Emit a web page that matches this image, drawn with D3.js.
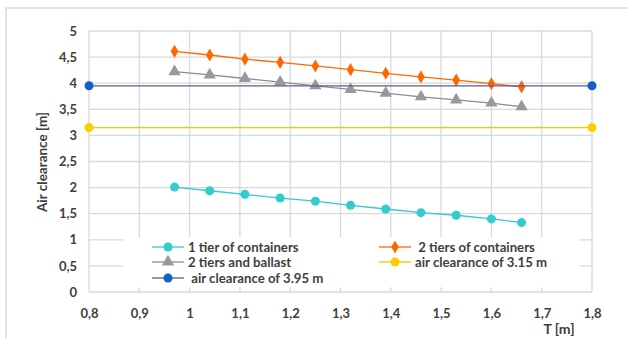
<!DOCTYPE html>
<html lang="en">
<head>
    <meta charset="UTF-8">
    <title>Air clearance vs T</title>
    <script src="https://d3js.org/d3.v7.min.js"></script>
    <style>
        body {
            margin: 0;
            padding: 0;
            background: #fff;
            font-family: 'Lato', 'Open Sans', sans-serif;
        }
        svg text {
            fill: #404040;
            font-weight: bold;
        }
    </style>
</head>
<body>
    <svg id="chart"></svg>

    <script>
        // Data
        const tValues = [0.97, 1.04, 1.11, 1.18, 1.25, 1.32, 1.39, 1.46, 1.53, 1.60, 1.66];
        const oneTier = [2.01, 1.94, 1.87, 1.80, 1.74, 1.66, 1.59, 1.52, 1.47, 1.40, 1.33];
        const twoTiers = [4.61, 4.54, 4.46, 4.40, 4.33, 4.26, 4.19, 4.12, 4.06, 3.99, 3.93];
        const twoTiersBallast = [4.22, 4.16, 4.09, 4.02, 3.95, 3.88, 3.81, 3.74, 3.68, 3.62, 3.55];
        const limitT = [0.8, 1.8];
        const clearance315 = [3.15, 3.15];
        const clearance395 = [3.95, 3.95];

        const xTicks = [0.8, 0.9, 1.0, 1.1, 1.2, 1.3, 1.4, 1.5, 1.6, 1.7, 1.8];
        const yTicks = [0, 0.5, 1, 1.5, 2, 2.5, 3, 3.5, 4, 4.5, 5];

        const series = [
            { name: "1 tier of containers", x: tValues, y: oneTier, color: "#33cccc", line: "#33cccc", marker: "circle" },
            { name: " 2 tiers of containers", x: tValues, y: twoTiers, color: "#ff6600", line: "#ff6600", marker: "diamond" },
            { name: "2 tiers and ballast", x: tValues, y: twoTiersBallast, color: "#999999", line: "#8c8c8c", marker: "triangle" },
            { name: "air clearance of 3.15 m", x: limitT, y: clearance315, color: "#ffcc00", line: "#ffc000", marker: "circle" },
            { name: " air clearance of 3.95 m", x: limitT, y: clearance395, color: "#1560c8", line: "#5a5c96", marker: "circle" }
        ];

        const W = 628, H = 338;
        const margin = { top: 31, right: 36, bottom: 46, left: 89 };
        const width = W - margin.left - margin.right;
        const height = H - margin.top - margin.bottom;

        const root = d3.select("#chart")
            .attr("width", W)
            .attr("height", H);

        // outer frame (only top and left edges are visible)
        root.append("path")
            .attr("d", `M6,${H} V8 H${W}`)
            .attr("fill", "none")
            .attr("stroke", "#d9d9d9")
            .attr("stroke-width", 1.5);

        const svg = root.append("g")
            .attr("transform", `translate(${margin.left},${margin.top})`);

        const x = d3.scaleLinear().domain([0.8, 1.8]).range([0, width]);
        const y = d3.scaleLinear().domain([0, 5]).range([height, 0]);

        const fmt = v => d3.format(".1f")(v).replace(".", ",").replace(/,0$/, "");

        // grid
        svg.append("g")
            .selectAll("line.v")
            .data(xTicks)
            .join("line")
            .attr("x1", d => x(d)).attr("x2", d => x(d))
            .attr("y1", 0).attr("y2", height)
            .attr("stroke", "#d9d9d9")
            .attr("stroke-width", 1.3);

        svg.append("g")
            .selectAll("line.h")
            .data(yTicks)
            .join("line")
            .attr("x1", 0).attr("x2", width)
            .attr("y1", d => y(d)).attr("y2", d => y(d))
            .attr("stroke", "#d9d9d9")
            .attr("stroke-width", 1.3);

        // axes labels
        const yAxis = svg.append("g")
            .call(d3.axisLeft(y).tickValues(yTicks).tickFormat(fmt).tickSize(0).tickPadding(12));
        yAxis.select(".domain").remove();
        yAxis.selectAll("text").style("font-size", "13px").style("font-family", "Lato, sans-serif");

        const xAxis = svg.append("g")
            .attr("transform", `translate(0,${height})`)
            .call(d3.axisBottom(x).tickValues(xTicks).tickFormat(fmt).tickSize(0).tickPadding(17));
        xAxis.select(".domain").remove();
        xAxis.selectAll("text").style("font-size", "13px").style("font-family", "Lato, sans-serif");

        root.append("text")
            .attr("transform", `translate(47,162) rotate(-90)`)
            .attr("text-anchor", "middle")
            .style("font-size", "13.5px")
            .text("Air clearance [m]");

        root.append("text")
            .attr("x", 559)
            .attr("y", 334)
            .attr("text-anchor", "middle")
            .style("font-size", "14px")
            .text("T [m]");

        // legend background (covers the grid)
        const legendBox = { x0: 0.868, x1: 1.775, y0: 1.05, y1: 0.09 };
        svg.append("rect")
            .attr("x", x(legendBox.x0))
            .attr("y", y(legendBox.y0))
            .attr("width", x(legendBox.x1) - x(legendBox.x0))
            .attr("height", y(legendBox.y1) - y(legendBox.y0))
            .attr("fill", "#fff");

        const symbolType = {
            circle: d3.symbolCircle,
            diamond: d3.symbolDiamond,
            triangle: d3.symbolTriangle
        };
        const symbolSize = { circle: 64, diamond: 50, triangle: 66 };

        // series
        series.forEach(s => {
            const pts = s.x.map((t, i) => [t, s.y[i]]);
            svg.append("path")
                .datum(pts)
                .attr("fill", "none")
                .attr("stroke", s.line)
                .attr("stroke-width", 1.3)
                .attr("d", d3.line().x(d => x(d[0])).y(d => y(d[1])));

            svg.append("g")
                .selectAll("path")
                .data(pts)
                .join("path")
                .attr("transform", d => `translate(${x(d[0])},${y(d[1])})`)
                .attr("d", d3.symbol().type(symbolType[s.marker]).size(symbolSize[s.marker]))
                .attr("fill", s.color);
        });

        // legend entries
        const legendPos = [
            [152, 247], [379, 247],
            [152, 262], [379, 262],
            [152, 278]
        ];
        const legend = root.append("g");
        series.forEach((s, i) => {
            const [lx, ly] = legendPos[i];
            const g = legend.append("g").attr("transform", `translate(${lx},${ly})`);
            g.append("line")
                .attr("x1", 0).attr("x2", 32)
                .attr("y1", 0).attr("y2", 0)
                .attr("stroke", s.line)
                .attr("stroke-width", 1.3);
            g.append("path")
                .attr("transform", "translate(16,0)")
                .attr("d", d3.symbol().type(symbolType[s.marker]).size(symbolSize[s.marker]))
                .attr("fill", s.color);
            g.append("text")
                .attr("x", 36)
                .attr("y", 4.5)
                .style("font-size", "13.2px")
                .style("white-space", "pre")
                .attr("xml:space", "preserve")
                .text(s.name);
        });
    </script>
</body>
</html>
